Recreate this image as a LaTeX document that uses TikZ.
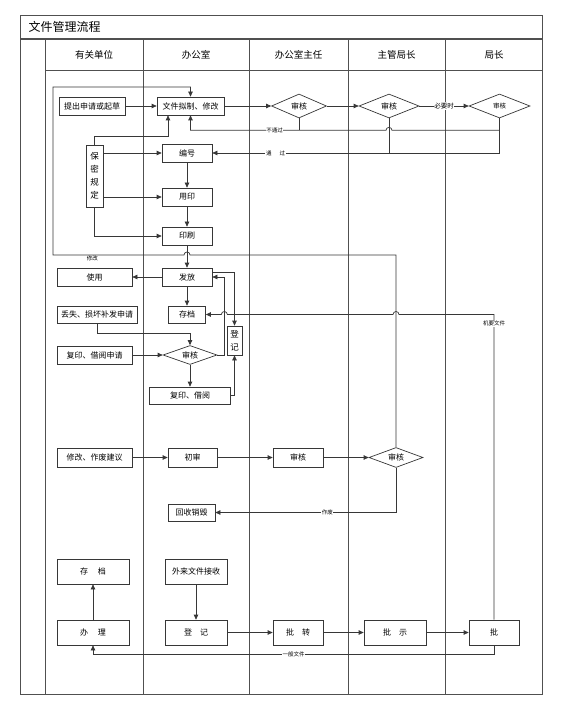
\documentclass[tikz,border=0pt]{standalone}
\usepackage{fontspec}
\setmainfont{Noto Sans CJK SC}
\usepackage{xcolor}
\usepackage{tikz}
\usetikzlibrary{arrows.meta, positioning, shapes.geometric, calc}
\definecolor{linegray}{RGB}{55,55,55}
\definecolor{framegray}{RGB}{80,80,80}

\begin{document}
\begin{tikzpicture}[x=1pt,y=-1pt,
  box/.style={draw=linegray,fill=white,line width=0.7pt,minimum height=18pt,inner sep=1pt,
              font=\fontsize{8}{9}\selectfont},
  vbox/.style={box,align=center,font=\fontsize{8.5}{13}\selectfont},
  dia/.style={draw=linegray,fill=white,line width=0.7pt,diamond,aspect=2,inner sep=0pt,
              minimum width=55pt,minimum height=24pt,font=\fontsize{8}{9}\selectfont},
  lane/.style={draw=framegray,line width=0.75pt},
  wire/.style={draw=linegray,line width=0.7pt},
  arr/.style={wire,-{Triangle[length=5pt,width=4.5pt]}},
  lbl/.style={fill=white,inner sep=0.6pt,font=\fontsize{5.5}{6}\selectfont},
  lanehead/.style={font=\fontsize{9.5}{11}\selectfont}
]
\useasboundingbox (0,0) rectangle (564,708);

% Frame and lanes
\draw[lane] (20.7,15) rectangle (542.7,694);
\draw[lane,line width=1.4pt] (20.7,39) -- (542.7,39);
\draw[lane] (45,70) -- (542.7,70);
\foreach \x in {45,143,249,348,445} {
  \draw[lane] (\x,39) -- (\x,694);
}
\node[anchor=west,font=\fontsize{12}{14}\selectfont] (title) at (25,27) {文件管理流程};
\foreach \id/\x/\txt in {hdA/94/有关单位, hdB/196/办公室, hdC/298.5/办公室主任,
                         hdD/396.5/主管局长, hdE/494/局长} {
  \node[lanehead] (\id) at (\x,55) {\txt};
}

% Drafting
\node[box,minimum width=66pt] (apply) at (92,106) {提出申请或起草};
\node[box,minimum width=67pt] (draft) at (190.5,106) {文件拟制、修改};
\node[dia] (chkA) at (299,106) {审核};
\node[dia,minimum width=60pt] (chkB) at (389,106) {审核};
\node[dia,minimum width=61pt,font=\fontsize{6.5}{7}\selectfont] (chkC) at (499.5,106) {审核};
\node[box,minimum width=50pt] (number) at (187,153) {编号};
\node[box,minimum width=50pt] (seal) at (187,197) {用印};
\node[box,minimum width=50pt] (print) at (187,236) {印刷};
\node[vbox,minimum width=17pt,minimum height=62pt] (secret) at (94.5,176) {保\\密\\规\\定};

% Distribution
\node[box,minimum width=75pt] (use) at (94.5,277) {使用};
\node[box,minimum width=50pt] (issue) at (187,277) {发放};
\node[box,minimum width=37pt,minimum height=17pt] (archive) at (187,314.5) {存档};
\node[box,minimum width=80pt,minimum height=17pt] (lost) at (97,314.5) {丢失、损坏补发申请};
\node[dia,minimum width=54pt,minimum height=19pt] (chkD) at (190,355) {审核};
\node[box,minimum width=75pt] (copyreq) at (94.5,355) {复印、借阅申请};
\node[box,minimum width=81pt,minimum height=17pt] (copy) at (190,395.5) {复印、借阅};
\node[vbox,minimum width=15pt,minimum height=29pt] (reg) at (234.5,340.5) {登\\记};

% Abolishing
\node[box,minimum width=75pt,minimum height=19pt] (revise) at (94.5,457.5) {修改、作废建议};
\node[box,minimum width=49pt,minimum height=19pt] (first) at (192.5,457.5) {初审};
\node[box,minimum width=50pt,minimum height=19pt] (check) at (298,457.5) {审核};
\node[dia,minimum width=54pt,minimum height=20pt] (chkE) at (396,457.5) {审核};
\node[box,minimum width=47pt,minimum height=17pt] (recycle) at (191.5,512.5) {回收销毁};

% Incoming documents
\node[box,minimum width=72pt,minimum height=25pt] (store) at (93,571.5) {存\hspace{1.2em}档};
\node[box,minimum width=72pt,minimum height=25pt] (handle) at (93,632.5) {办\hspace{1.2em}理};
\node[box,minimum width=62pt,minimum height=25pt] (receive) at (196,571.5) {外来文件接收};
\node[box,minimum width=62pt,minimum height=25pt] (log) at (196,632.5) {登\hspace{1em}记};
\node[box,minimum width=50pt,minimum height=25pt] (forward) at (298,632.5) {批\hspace{1em}转};
\node[box,minimum width=62pt,minimum height=25pt] (instruct) at (395,632.5) {批\hspace{1em}示};
\node[box,minimum width=50pt,minimum height=25pt] (approve) at (494,632.5) {批};

% Routing points
\coordinate (failR) at ($(chkC.south)+(0,12)$);
\coordinate (passR) at (chkC.south |- number.east);
\coordinate (secTop) at (168,136);
\coordinate (loopBL) at (53,255);
\coordinate (loopTL) at (53,87);
\coordinate (rtA) at ($(chkD.east)+(7,0)$);
\coordinate (genR) at ($(approve.south)+(0,9)$);

% Straight flows
\foreach \a/\b in {apply/draft, draft/chkA, chkA/chkB, copyreq/chkD, revise/first,
                   first/check, check/chkE, log/forward, forward/instruct, instruct/approve} {
  \draw[arr] (\a.east) -- (\b.west);
}
\foreach \a/\b in {number/seal, seal/print, print/issue, issue/archive, chkD/copy, receive/log} {
  \draw[arr] (\a.south) -- (\b.north);
}
\draw[arr] (handle.north) -- (store.south);
\draw[arr] (issue.west) -- (use.east);
\draw[arr] (chkB.east) -- node[lbl,font=\fontsize{6.5}{7}\selectfont]{必要时} (chkC.west);

% Review results
\draw[wire] (chkA.south) -- (chkA.south |- failR);
\draw[wire] (chkB.south) -- (chkB.south |- passR);
\draw[wire] (chkC.south) -- (passR);
\draw[arr] (failR) -- ($(chkB.south |- failR)+(3,0)$) arc[start angle=0,end angle=-180,radius=3]
  -- node[lbl,pos=0.57]{不通过} (draft.south |- failR) -- (draft.south);
\draw[arr] (passR) -- node[lbl,pos=0.78]{通\hspace{8pt}过} (number.east);

% Secrecy rules
\draw[arr] (secret.north) |- (secTop) -- (secTop |- draft.south);
\draw[arr] (secret.east |- number.west) -- (number.west);
\draw[arr] (secret.east |- seal.west) -- (seal.west);
\draw[arr] (secret.south) |- (print.west);

% Revision loop
\draw[arr] (chkE.north) |- ($(print.south |- loopBL)+(3,0)$) arc[start angle=0,end angle=-180,radius=3]
  -- node[below=0.5pt,inner sep=0.5pt,font=\fontsize{5.5}{6}\selectfont,pos=0.7]{修改} (loopBL)
  -- (loopTL) -| (draft.north);

% Copy and reissue
\draw[arr] (lost.south) |- ($(chkD.north)+(0,-12)$) -- (chkD.north);
\draw[arr] (chkD.east) -- (rtA) |- (issue.east);
\draw[arr] ([yshift=5pt]issue.east) -| (reg.north);
\draw[arr] (copy.east) -| (reg.south);

% Confidential documents
\draw[arr] (approve.north) -- node[lbl,pos=0.97]{机要文件} (approve.north |- archive.east)
  -- ($(chkE.north |- archive.east)+(3,0)$) arc[start angle=0,end angle=-180,radius=3]
  -- ($(rtA |- archive.east)+(3,0)$) arc[start angle=0,end angle=-180,radius=3]
  -- (archive.east);

% Abolish
\draw[arr] (chkE.south) |- node[lbl,pos=0.69]{作废} (recycle.east);

% General documents
\draw[arr] (approve.south) -- (genR) -| node[lbl,pos=0.25]{一般文件} (handle.south);

\end{tikzpicture}
\end{document}
